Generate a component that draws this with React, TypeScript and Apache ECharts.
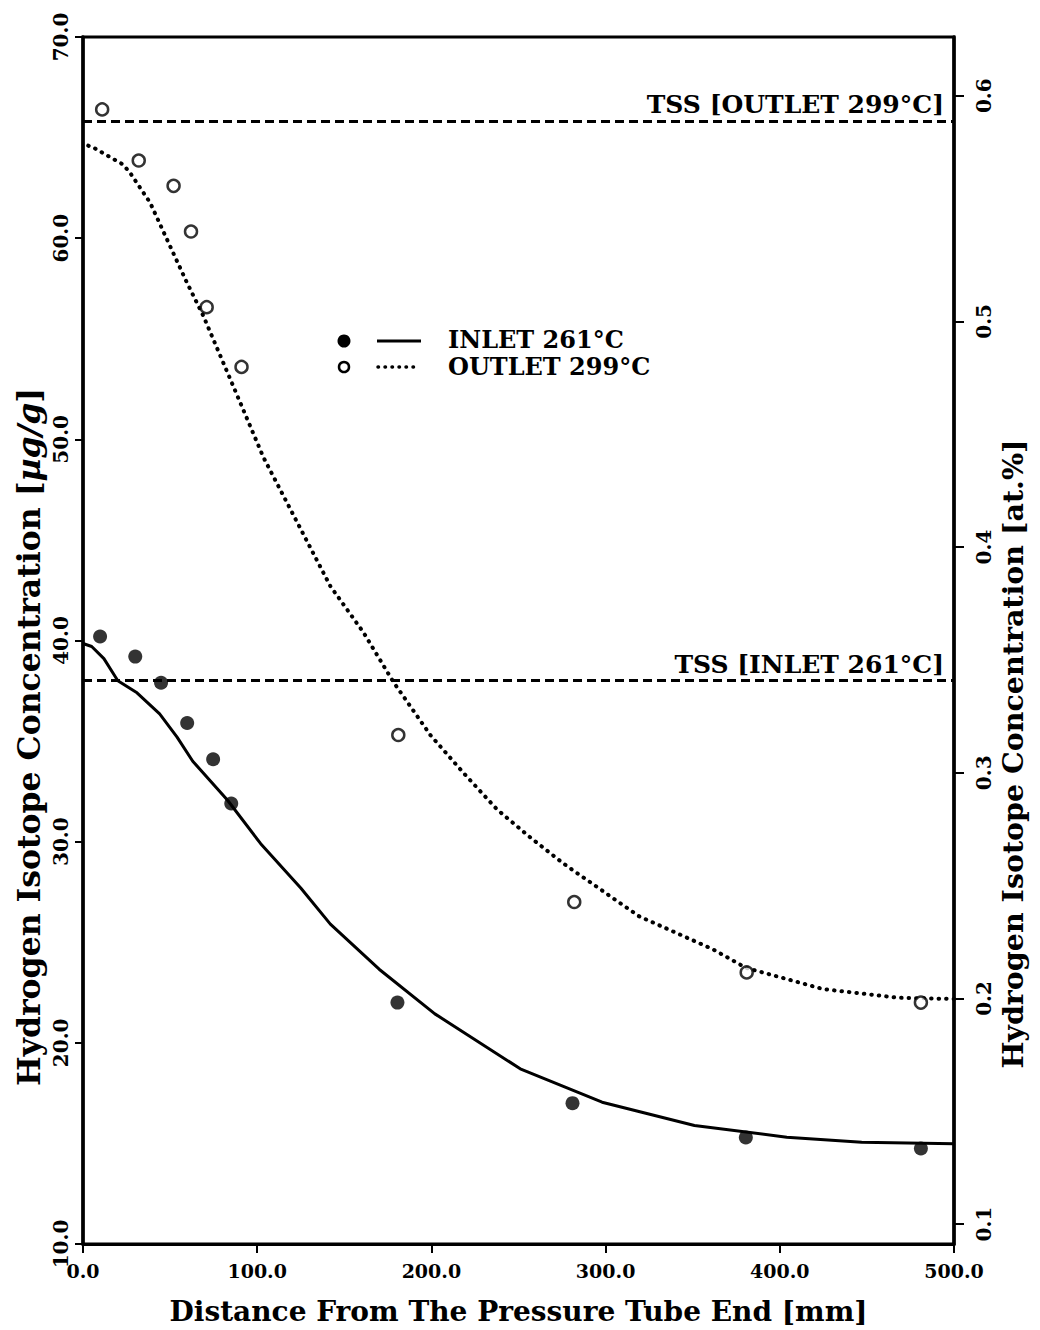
import React, { useEffect, useRef } from "react";
import * as echarts from "echarts";

const FONT = "'DejaVu Serif', serif";

// Measured points (distance mm, concentration µg/g)
const DIST_INLET = [9.8, 30, 44.8, 59.8, 74.7, 85.1, 180.5, 281, 380.5, 481];
const CONC_INLET = [40.2, 39.2, 37.9, 35.9, 34.1, 31.9, 22.0, 17.0, 15.3, 14.75];
const DIST_OUTLET = [11, 32, 52, 62, 71, 91, 181, 282, 381, 481];
const CONC_OUTLET = [66.4, 63.86, 62.6, 60.33, 56.57, 53.6, 35.3, 27.0, 23.5, 22.0];

// Model curves
const FIT_INLET_X = [0, 5, 12, 20, 31, 44, 54, 63, 83, 102, 125, 142, 170, 202, 251, 298, 351, 404, 447, 500];
const FIT_INLET_Y = [39.85, 39.7, 39.1, 38.0, 37.4, 36.35, 35.2, 34.0, 32.06, 29.9, 27.7, 25.9, 23.66, 21.44, 18.71, 17.05, 15.89, 15.31, 15.06, 14.98];
const FIT_OUTLET_X = [3, 6, 23, 27, 38.5, 50, 59.6, 69, 84.5, 103.6, 122.8, 142, 161, 178, 199.4, 218.6, 237.7, 256.9, 276, 319, 361.6, 380.5, 425, 468, 500];
const FIT_OUTLET_Y = [64.6, 64.5, 63.66, 63.25, 61.77, 59.6, 57.8, 56.15, 53.0, 49.1, 45.9, 42.7, 40.4, 37.96, 35.3, 33.4, 31.6, 30.2, 28.9, 26.3, 24.65, 23.73, 22.67, 22.24, 22.18];

// Terminal solid solubility levels
const TSS_OUTLET = 65.8;
const TSS_INLET = 38.0;

// Axis ticks
const RIGHT_TICKS = [0.1, 0.2, 0.3, 0.4, 0.5, 0.6];
const RIGHT_MIN = 0.0912;
const RIGHT_MAX = 0.626;

const zip = (xs: number[], ys: number[]) => xs.map((x, i) => [x, ys[i]]);

export default function App() {
  const ref = useRef<HTMLDivElement>(null);
  useEffect(() => {
    const chart = echarts.init(ref.current!, null, { renderer: "svg" });
    const labelStyle = {
      fontFamily: FONT,
      fontWeight: "bold" as const,
      fontSize: 19,
      color: "#000",
    };
    const tssLabel = (text: string) => ({
      show: true,
      position: "insideEndTop" as const,
      formatter: text,
      fontFamily: FONT,
      fontWeight: "bold" as const,
      fontSize: 25,
      color: "#000",
      distance: [10, 4],
    });
    chart.setOption({
      animation: false,
      backgroundColor: "#fff",
      grid: {
        left: 83,
        right: 86,
        top: 37,
        bottom: 78,
        show: true,
        borderColor: "#000",
        borderWidth: 3,
      },
      xAxis: {
        type: "value",
        min: 0,
        max: 500,
        interval: 100,
        axisLine: { show: true, lineStyle: { color: "#000", width: 3 } },
        axisTick: { show: true, length: 9, lineStyle: { color: "#000", width: 2 } },
        axisLabel: { ...labelStyle, margin: 17, formatter: (v: number) => v.toFixed(1) },
        splitLine: { show: false },
        name: "Distance From The Pressure Tube End [mm]",
        nameLocation: "middle",
        nameGap: 53,
        nameTextStyle: { fontFamily: FONT, fontWeight: "bold", fontSize: 28, color: "#000" },
      },
      yAxis: [
        {
          type: "value",
          position: "left",
          min: 10,
          max: 70,
          interval: 10,
          axisLine: { show: true, lineStyle: { color: "#000", width: 3.5 } },
          axisTick: { show: true, length: 8, lineStyle: { color: "#000", width: 2 } },
          axisLabel: { ...labelStyle, fontSize: 20, rotate: 90, margin: 12, formatter: (v: number) => v.toFixed(1) },
          splitLine: { show: false },
        },
        {
          type: "value",
          position: "right",
          min: RIGHT_MIN,
          max: RIGHT_MAX,
          alignTicks: false,
          axisLine: { show: true, lineStyle: { color: "#000", width: 3.5 } },
          axisTick: { show: true, length: 10, customValues: RIGHT_TICKS, lineStyle: { color: "#000", width: 2 } },
          axisLabel: {
            ...labelStyle,
            fontSize: 20,
            rotate: 90,
            margin: 20,
            customValues: RIGHT_TICKS,
            formatter: (v: number) => v.toFixed(1),
          },
          splitLine: { show: false },
        },
      ],
      graphic: [
        {
          type: "text",
          x: 28,
          y: 737,
          rotation: Math.PI / 2,
          style: {
            text: "{a|Hydrogen Isotope Concentration [}{b|µg/g}{a|]}",
            align: "center",
            verticalAlign: "middle",
            rich: {
              a: { fontFamily: FONT, fontWeight: "bold", fontSize: 31.5, fill: "#000" },
              b: { fontFamily: FONT, fontWeight: "bold", fontSize: 31.5, fontStyle: "italic", fill: "#000" },
            },
          },
        },
        {
          type: "text",
          x: 1013,
          y: 754,
          rotation: Math.PI / 2,
          style: {
            text: "Hydrogen Isotope Concentration [at.%]",
            align: "center",
            verticalAlign: "middle",
            fontFamily: FONT,
            fontWeight: "bold",
            fontSize: 28.5,
            fill: "#000",
          },
        },
        // legend
        { type: "circle", shape: { cx: 344, cy: 341, r: 6.5 }, style: { fill: "#000" } },
        { type: "line", shape: { x1: 377, y1: 341, x2: 421, y2: 341 }, style: { stroke: "#000", lineWidth: 3 } },
        {
          type: "text",
          x: 448,
          y: 339,
          style: {
            text: "INLET 261°C",
            fontFamily: FONT,
            fontWeight: "bold",
            fontSize: 24,
            fill: "#000",
            verticalAlign: "middle",
          },
        },
        { type: "circle", shape: { cx: 344, cy: 367, r: 5 }, style: { fill: "#fff", stroke: "#000", lineWidth: 2.5 } },
        {
          type: "line",
          shape: { x1: 378, y1: 367, x2: 420, y2: 367 },
          style: { stroke: "#000", lineWidth: 3.5, lineDash: [0.5, 6.5], lineCap: "round" },
        },
        {
          type: "text",
          x: 448,
          y: 366,
          style: {
            text: "OUTLET 299°C",
            fontFamily: FONT,
            fontWeight: "bold",
            fontSize: 24,
            fill: "#000",
            verticalAlign: "middle",
          },
        },
      ],
      series: [
        {
          name: "INLET fit",
          type: "line",
          yAxisIndex: 0,
          data: zip(FIT_INLET_X, FIT_INLET_Y),
          showSymbol: false,
          symbol: "none",
          smooth: false,
          lineStyle: { color: "#000", width: 3 },
          z: 3,
          markLine: {
            symbol: "none",
            silent: true,
            lineStyle: { color: "#000", width: 3, type: [9, 5] },
            label: tssLabel("TSS [INLET 261°C]"),
            data: [{ yAxis: TSS_INLET }],
          },
        },
        {
          name: "OUTLET fit",
          type: "line",
          yAxisIndex: 0,
          data: zip(FIT_OUTLET_X, FIT_OUTLET_Y),
          showSymbol: false,
          symbol: "none",
          smooth: false,
          lineStyle: { color: "#000", width: 4, type: [0.5, 7], cap: "round" },
          z: 3,
          markLine: {
            symbol: "none",
            silent: true,
            lineStyle: { color: "#000", width: 3, type: [9, 5] },
            label: tssLabel("TSS [OUTLET 299°C]"),
            data: [{ yAxis: TSS_OUTLET }],
          },
        },
        {
          name: "INLET 261°C",
          type: "scatter",
          yAxisIndex: 0,
          data: zip(DIST_INLET, CONC_INLET),
          symbol: "circle",
          symbolSize: 14,
          itemStyle: { color: "#000" },
          z: 5,
        },
        {
          name: "OUTLET 299°C",
          type: "scatter",
          yAxisIndex: 0,
          data: zip(DIST_OUTLET, CONC_OUTLET),
          symbol: "circle",
          symbolSize: 12,
          itemStyle: { color: "#fff", borderColor: "#000", borderWidth: 2.5 },
          z: 5,
        },
      ],
    });
    return () => chart.dispose();
  }, []);
  return (
    <div
      ref={ref}
      style={{ position: "absolute", left: 0, top: 0, width: 1040, height: 1330, background: "#fff" }}
    />
  );
}
